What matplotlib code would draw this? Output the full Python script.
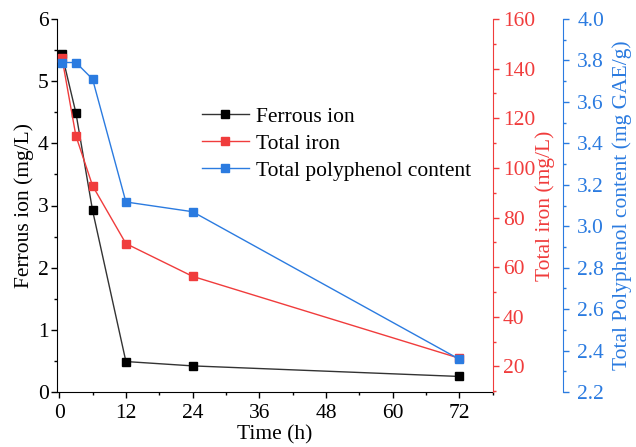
import matplotlib
matplotlib.use("Agg")
import matplotlib.pyplot as plt
from matplotlib.ticker import MultipleLocator, FormatStrFormatter

time_h = [0.5, 3, 6, 12, 24, 72]
ferrous_ion = [5.43, 4.49, 2.92, 0.49, 0.42, 0.25]
total_iron = [144.3, 112.9, 92.8, 69.5, 56.3, 23.3]
polyphenol = [3.79, 3.79, 3.71, 3.117, 3.07, 2.358]
x_ticks = [0, 12, 24, 36, 48, 60, 72]

plt.rcParams['font.family'] = ['Liberation Serif', 'DejaVu Serif']
FS = 15.5
plt.rcParams['font.size'] = FS

black = '#000000'
red = '#F03C3C'
blue = '#2B7BE0'

fig = plt.figure(figsize=(6.36, 4.47), dpi=100)
ax = fig.add_axes([57/636, 1-392/447, (492.7-57)/636, (392-19)/447])
ax2 = ax.twinx()
ax3 = ax.twinx()
ax3.spines['right'].set_position(('outward', 70*72/100))

l1, = ax.plot(time_h, ferrous_ion, color='#333333', lw=1.0, marker='s', ms=6,
              mfc=black, mec=black, label='Ferrous ion')
l2, = ax2.plot(time_h, total_iron, color=red, lw=1.0, marker='s', ms=6,
               mfc=red, mec=red, label='Total iron')
l3, = ax3.plot(time_h, polyphenol, color=blue, lw=1.0, marker='s', ms=6,
               mfc=blue, mec=blue, label='Total polyphenol content')

ax.set_xlim(-0.4, 78)
ax.set_ylim(0, 6)
ax2.set_ylim(9.7, 160)
ax3.set_ylim(2.2, 4.0)

ax.set_xticks(x_ticks)
ax.xaxis.set_minor_locator(MultipleLocator(6))
ax.yaxis.set_major_locator(MultipleLocator(1))
ax.yaxis.set_minor_locator(MultipleLocator(0.5))
ax2.set_yticks([20, 40, 60, 80, 100, 120, 140, 160])
ax2.yaxis.set_minor_locator(MultipleLocator(10))
ax3.set_yticks([2.2, 2.4, 2.6, 2.8, 3.0, 3.2, 3.4, 3.6, 3.8, 4.0])
ax3.yaxis.set_minor_locator(MultipleLocator(0.1))
ax3.yaxis.set_major_formatter(FormatStrFormatter('%.1f'))

for a in (ax, ax2, ax3):
    a.spines['top'].set_visible(False)
    a.tick_params(which='major', direction='out', length=4, width=1, pad=2)
    a.tick_params(which='minor', direction='out', length=2.5, width=1)

ax.tick_params(axis='x', which='major', pad=5)
ax2.tick_params(axis='y', which='major', pad=3.5)
ax3.tick_params(axis='y', which='major', pad=6.5)

ax.spines['right'].set_visible(False)
ax2.spines['left'].set_visible(False)
ax3.spines['left'].set_visible(False)
ax2.spines['bottom'].set_visible(False)
ax3.spines['bottom'].set_visible(False)

ax2.spines['right'].set_color(red)
ax2.tick_params(axis='y', which='both', colors=red)
ax3.spines['right'].set_color(blue)
ax3.tick_params(axis='y', which='both', colors=blue)

ax.set_xlabel('Time (h)', labelpad=1.5)
ax.set_ylabel('Ferrous ion (mg/L)', labelpad=3)
ax2.set_ylabel('Total iron (mg/L)', labelpad=0, color=red)
ax3.set_ylabel('Total Polyphenol content (mg GAE/g)', labelpad=6, color=blue)

ax.legend(handles=[l1, l2, l3], loc='upper left',
          bbox_to_anchor=(201.7/636, 1-106.8/447), bbox_transform=fig.transFigure,
          frameon=False, fontsize=FS, handlelength=2.2, handletextpad=0.3,
          labelspacing=0.32, borderaxespad=0, borderpad=0)

fig.savefig('out.png', dpi=100)
